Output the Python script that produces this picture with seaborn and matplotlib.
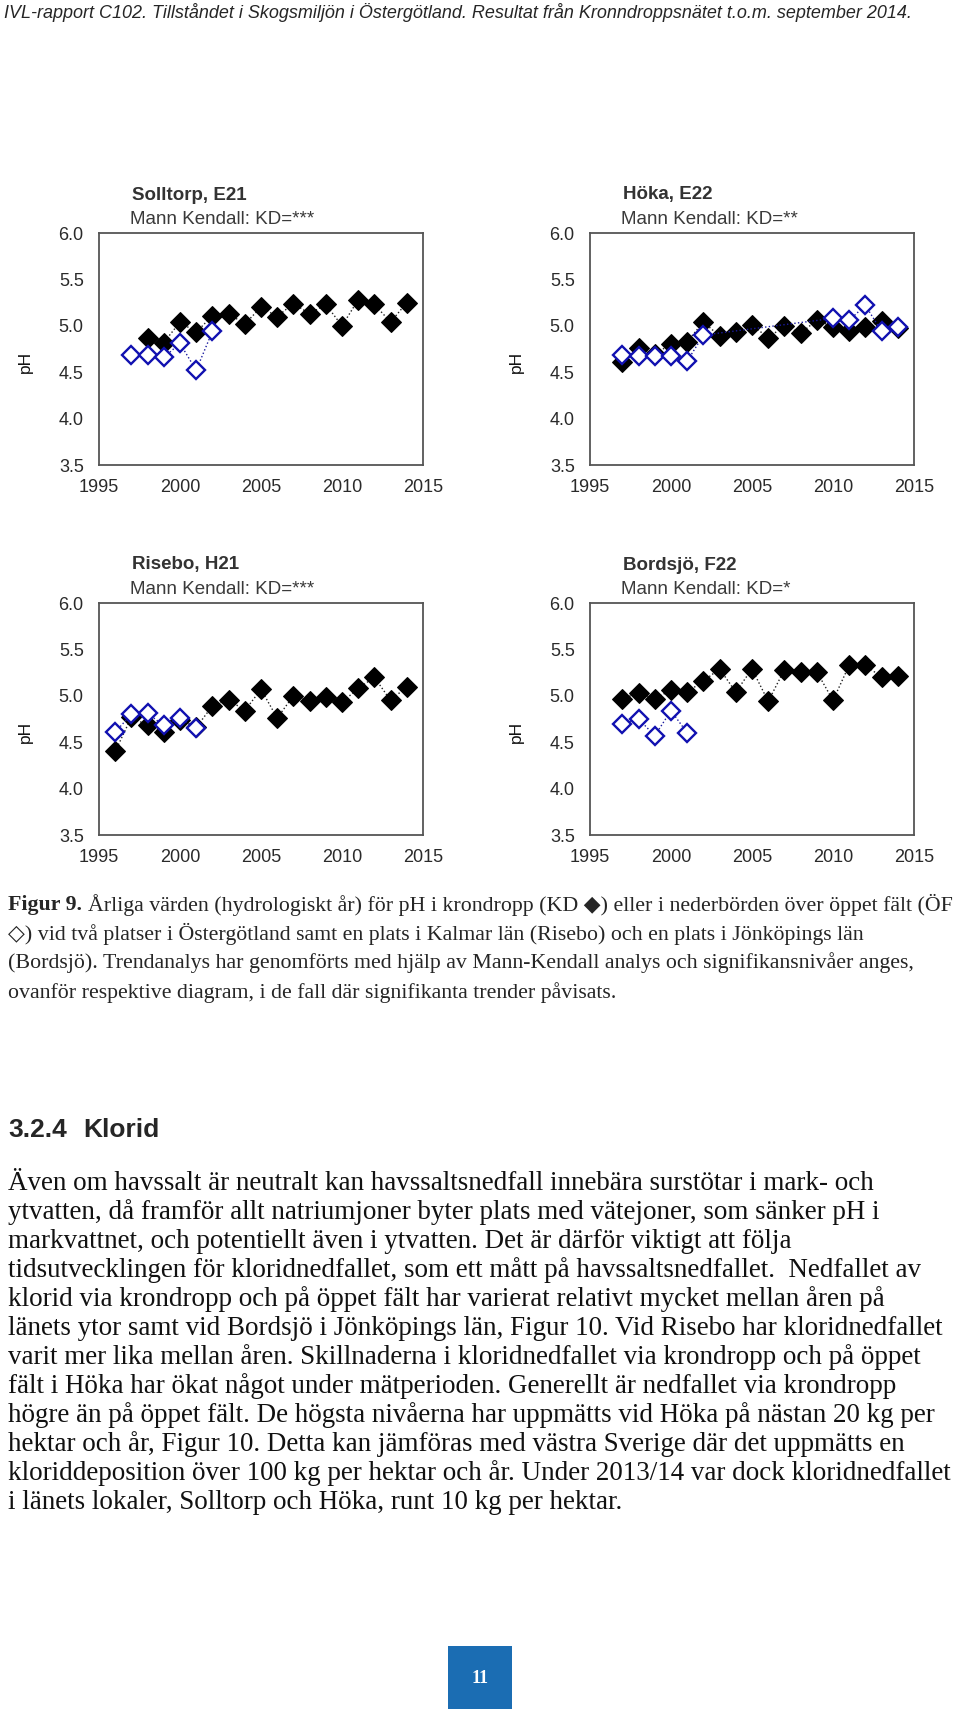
import numpy as np
import pandas as pd
import matplotlib
matplotlib.use("Agg")
import matplotlib.pyplot as plt
import seaborn as sns
from matplotlib.patches import Rectangle

W, H = 960, 1717
nan = np.nan

# hydrologiska år
years = list(range(1996, 2015))

titles = ["Solltorp, E21", "Höka, E22", "Risebo, H21", "Bordsjö, F22"]
kendall = ["Mann Kendall: KD=***", "Mann Kendall: KD=**",
           "Mann Kendall: KD=***", "Mann Kendall: KD=*"]

# pH i krondropp (KD) och öppet fält (ÖF)
solltorp_kd = [nan, nan, 4.87, 4.82, 5.04, 4.93, 5.11, 5.13, 5.02, 5.20,
               5.10, 5.24, 5.13, 5.23, 5.00, 5.28, 5.23, 5.04, 5.25]
solltorp_of = [nan, 4.68, 4.68, 4.66, 4.81, 4.52, 4.94, nan, nan, nan,
               nan, nan, nan, nan, nan, nan, nan, nan, nan]
hoka_kd = [nan, 4.61, 4.76, 4.70, 4.80, 4.83, 5.04, 4.89, 4.93, 5.01,
           4.87, 5.00, 4.92, 5.06, 4.99, 4.94, 4.99, 5.05, 4.98]
hoka_of = [nan, 4.68, 4.67, 4.67, 4.67, 4.62, 4.90, nan, nan, nan,
           nan, nan, nan, nan, 5.08, 5.06, 5.22, 4.94, 4.99]
risebo_kd = [4.40, 4.77, 4.68, 4.61, 4.74, 4.66, 4.89, 4.96, 4.84, 5.07,
             4.76, 5.00, 4.94, 4.99, 4.93, 5.08, 5.20, 4.95, 5.10]
risebo_of = [4.61, 4.80, 4.81, 4.68, 4.76, 4.65, nan, nan, nan, nan,
             nan, nan, nan, nan, nan, nan, nan, nan, nan]
bordsjo_kd = [nan, 4.97, 5.03, 4.97, 5.06, 5.04, 5.16, 5.29, 5.04, 5.29,
              4.94, 5.28, 5.26, 5.26, 4.95, 5.33, 5.33, 5.20, 5.21]
bordsjo_of = [nan, 4.70, 4.75, 4.57, 4.84, 4.60, nan, nan, nan, nan,
              nan, nan, nan, nan, nan, nan, nan, nan, nan]

y_ticks = [3.5, 4.0, 4.5, 5.0, 5.5, 6.0]
x_ticks = [1995, 2000, 2005, 2010, 2015]

header = ("IVL-rapport C102. Tillståndet i Skogsmiljön i Östergötland. "
          "Resultat från Kronndroppsnätet t.o.m. september 2014.")
caption = [
    "Årliga värden (hydrologiskt år) för pH i krondropp (KD ◆) eller i nederbörden över öppet fält (ÖF",
    "◇) vid två platser i Östergötland samt en plats i Kalmar län (Risebo) och en plats i Jönköpings län",
    "(Bordsjö). Trendanalys har genomförts med hjälp av Mann-Kendall analys och signifikansnivåer anges,",
    "ovanför respektive diagram, i de fall där signifikanta trender påvisats.",
]
body = [
    "Även om havssalt är neutralt kan havssaltsnedfall innebära surstötar i mark- och",
    "ytvatten, då framför allt natriumjoner byter plats med vätejoner, som sänker pH i",
    "markvattnet, och potentiellt även i ytvatten. Det är därför viktigt att följa",
    "tidsutvecklingen för kloridnedfallet, som ett mått på havssaltsnedfallet.  Nedfallet av",
    "klorid via krondropp och på öppet fält har varierat relativt mycket mellan åren på",
    "länets ytor samt vid Bordsjö i Jönköpings län, Figur 10. Vid Risebo har kloridnedfallet",
    "varit mer lika mellan åren. Skillnaderna i kloridnedfallet via krondropp och på öppet",
    "fält i Höka har ökat något under mätperioden. Generellt är nedfallet via krondropp",
    "högre än på öppet fält. De högsta nivåerna har uppmätts vid Höka på nästan 20 kg per",
    "hektar och år, Figur 10. Detta kan jämföras med västra Sverige där det uppmätts en",
    "kloriddeposition över 100 kg per hektar och år. Under 2013/14 var dock kloridnedfallet",
    "i länets lokaler, Solltorp och Höka, runt 10 kg per hektar.",
]

sns.set_style("white")
plt.rcParams['font.family'] = ['Liberation Sans', 'DejaVu Sans']

fig = plt.figure(figsize=(W / 100, H / 100), dpi=100)
fig.patch.set_facecolor("white")
renderer = fig.canvas.get_renderer()

SANS = ['Liberation Sans', 'DejaVu Sans']
SERIF = ['Liberation Serif', 'DejaVu Serif', 'DejaVu Sans']


def ftext(x, y, s, **kw):
    return fig.text(x / W, 1 - y / H, s, **kw)


def width_of(s, size, **kw):
    t = ftext(0, 0, s, fontsize=size, **kw)
    w = t.get_window_extent(renderer).width
    t.remove()
    return w


def fit(t, target_w):
    w = t.get_window_extent(renderer).width
    t.set_fontsize(t.get_fontsize() * target_w / w)


def panel(x0, y0, kd, of, title, mk):
    ax = fig.add_axes([x0 / W, 1 - (y0 + 232) / H, 324 / W, 232 / H])
    df = pd.DataFrame({"År": years, "KD": kd, "ÖF": of})
    d1 = df.dropna(subset=["KD"])
    d2 = df.dropna(subset=["ÖF"])
    sns.lineplot(data=d1, x="År", y="KD", ax=ax, color="#222222",
                 linestyle=":", linewidth=1.0, marker="D", markersize=10,
                 markerfacecolor="black", markeredgecolor="black")
    sns.lineplot(data=d2, x="År", y="ÖF", ax=ax, color="#1a1aa0",
                 linestyle=":", linewidth=1.0, marker="D", markersize=9,
                 markerfacecolor="white", markeredgecolor="#1010b0",
                 markeredgewidth=1.7)
    ax.set_xlim(1995, 2015)
    ax.set_ylim(3.5, 6.0)
    ax.set_xticks(x_ticks)
    ax.set_yticks(y_ticks)
    ax.set_xticklabels([str(v) for v in x_ticks])
    ax.set_yticklabels([f"{v:.1f}" for v in y_ticks])
    ax.set_xlabel("")
    ax.set_ylabel("")
    for sp in ax.spines.values():
        sp.set_visible(True)
        sp.set_color("#555555")
        sp.set_linewidth(1.3)
    ax.tick_params(axis="both", direction="in", length=4, width=1,
                   color="#555555", labelsize=13, labelcolor="#2a2a2a")
    ax.tick_params(axis="y", pad=11)
    ax.tick_params(axis="x", pad=10)
    ftext(x0 + 33, y0 - 38, title, fontsize=13.5, fontweight="bold",
          color="#333333", va="center", family=SANS)
    ftext(x0 + 31, y0 - 13, mk, fontsize=13.5, color="#3a3a3a",
          va="center", family=SANS)
    ftext(x0 - 74, y0 + 129, "pH", fontsize=12.5, rotation=90,
          color="#111111", va="center", ha="center", family=SANS)
    return ax


panel(99, 233, solltorp_kd, solltorp_of, titles[0], kendall[0])
panel(590, 233, hoka_kd, hoka_of, titles[1], kendall[1])
panel(99, 603, risebo_kd, risebo_of, titles[2], kendall[2])
panel(590, 603, bordsjo_kd, bordsjo_of, titles[3], kendall[3])

# sidhuvud
t = ftext(4, 13, header, fontsize=12, style="italic", va="center",
          family=['Liberation Sans Narrow', 'Liberation Sans', 'DejaVu Sans'])
fit(t, 909)

# figurtext: storlek så att bredaste raden ryms
s0 = 14
bold_w = width_of("Figur 9. ", s0, fontweight="bold", family=SERIF)
cap_w = [bold_w + width_of(caption[0], s0, family=SERIF)]
cap_w += [width_of(c, s0, family=SERIF) for c in caption[1:]]
cap_size = s0 * 946 / max(cap_w)
cap_y = [905, 934, 963, 993]
fb = ftext(8, cap_y[0], "Figur 9.", fontsize=cap_size, fontweight="bold",
           va="center", family=SERIF)
bw = fb.get_window_extent(renderer).width
ftext(8 + bw + cap_size * 0.35, cap_y[0], caption[0], fontsize=cap_size,
      va="center", family=SERIF)
for i in (1, 2, 3):
    ftext(8, cap_y[i], caption[i], fontsize=cap_size, va="center", family=SERIF)

# rubrik
ftext(8, 1130, "3.2.4", fontsize=19, fontweight="bold", va="center", family=SANS)
ftext(83, 1130, "Klorid", fontsize=19, fontweight="bold", va="center", family=SANS)

# brödtext
b_w = [width_of(line, 16, family=SERIF) for line in body]
bsize = 16 * 944 / max(b_w)
for i, line in enumerate(body):
    ftext(8, 1183 + 29.0 * i, line, fontsize=bsize, va="center",
          family=SERIF, color="#111111")

# sidnummer
fig.patches.append(Rectangle((448 / W, 1 - 1709 / H), 64 / W, 63 / H,
                             transform=fig.transFigure, facecolor="#1b6db3",
                             edgecolor="none"))
ftext(480, 1678, "11", fontsize=13, fontweight="bold", color="white",
      ha="center", va="center", family=SERIF)

fig.savefig("out.png", dpi=100, facecolor="white")
